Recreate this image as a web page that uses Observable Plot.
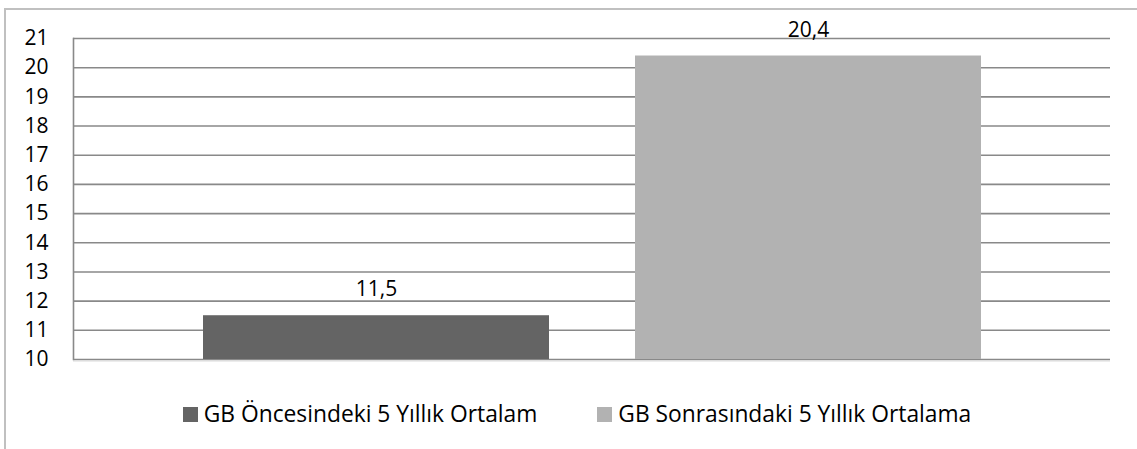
<!DOCTYPE html>
<html>
<head>
<meta charset="utf-8">
<script src="https://cdn.jsdelivr.net/npm/d3@7"></script>
<script src="https://cdn.jsdelivr.net/npm/@observablehq/plot@0.6"></script>
<style>
  html, body { margin: 0; padding: 0; background: #fff; }
  #wrap { position: relative; width: 1137px; height: 449px; overflow: hidden; font-family: "Open Sans", Lato, sans-serif; }
  #border { position: absolute; left: 4px; top: 8px; width: 1300px; height: 700px; border: 2px solid #c0c0c0; box-sizing: border-box; }
  #chart { position: absolute; left: 0; top: 0; }
  #legend { position: absolute; left: 0; top: 404px; width: 1154px; display: flex; justify-content: center; gap: 60px; font-size: 22.8px; line-height: 20px; color: #000; }
  .item { display: flex; align-items: center; white-space: nowrap; }
  .sw { width: 15px; height: 15px; margin-right: 6px; display: inline-block; }
</style>
</head>
<body>
<div id="wrap">
  <div id="border"></div>
  <div id="chart"></div>
  <div id="legend"></div>
</div>
<script>
const seriesNames = ["GB Öncesindeki 5 Yıllık Ortalam", "GB Sonrasındaki 5 Yıllık Ortalama"];
const seriesValues = [11.5, 20.4];
const seriesLabels = ["11,5", "20,4"];
const seriesColors = ["#646464", "#b2b2b2"];
const yTicks = [10, 11, 12, 13, 14, 15, 16, 17, 18, 19, 20, 21];

const data = seriesNames.map((name, i) => ({name, value: seriesValues[i], label: seriesLabels[i]}));
const yMin = yTicks[0];

const plot = Plot.plot({
  width: 1137,
  height: 380,
  marginLeft: 73,
  marginRight: 27,
  marginTop: 38,
  marginBottom: 21,
  style: {fontSize: "21px", fontFamily: "'Open Sans', Lato, sans-serif", color: "#000", background: "transparent"},
  x: {type: "band", domain: seriesNames, paddingInner: 0.2, paddingOuter: 0.3, axis: null},
  y: {domain: [yTicks[0], yTicks[yTicks.length - 1]]},
  color: {domain: seriesNames, range: seriesColors},
  marks: [
    Plot.ruleY(yTicks, {stroke: "#898989", strokeWidth: 1.6}),
    Plot.frame({anchor: "left", stroke: "#898989", strokeWidth: 1.6}),
    Plot.barY(data, {x: "name", y1: yMin, y2: "value", fill: "name"}),
    Plot.ruleY([yMin], {stroke: "#d9d9d9", strokeWidth: 1, dy: 1.5}),
    Plot.axisY(yTicks, {tickSize: 0, tickPadding: 25, textAnchor: "end", fill: "#000", label: null}),
    Plot.text(data, {x: "name", y: "value", text: "label", dy: -26, fill: "#000", fontSize: 21})
  ]
});
document.getElementById("chart").appendChild(plot);

const legend = document.getElementById("legend");
seriesNames.forEach((name, i) => {
  const item = document.createElement("div");
  item.className = "item";
  const sw = document.createElement("span");
  sw.className = "sw";
  sw.style.background = seriesColors[i];
  const t = document.createElement("span");
  t.textContent = name;
  item.appendChild(sw);
  item.appendChild(t);
  legend.appendChild(item);
});
</script>
</body>
</html>
